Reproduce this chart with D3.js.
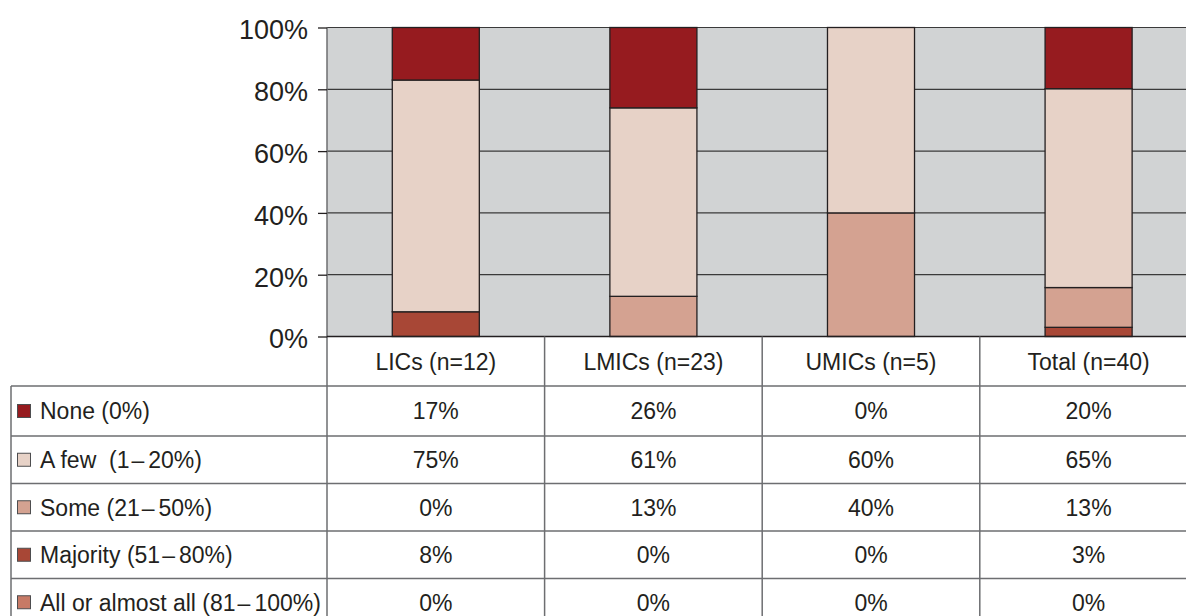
<!DOCTYPE html>
<html><head><meta charset="utf-8">
<script src="https://cdn.jsdelivr.net/npm/d3@7"></script>
<style>
html,body{margin:0;padding:0;background:#fff;overflow:hidden}
text{font-family:"Liberation Sans",Arial,Helvetica,sans-serif;fill:#231f20}
</style></head><body>
<svg id="c" width="1186" height="616"></svg>
<script>
const categories = ["LICs (n=12)", "LMICs (n=23)", "UMICs (n=5)", "Total (n=40)"];
const seriesNames = ["None (0%)", "A few  (1\u201320%)", "Some (21\u201350%)", "Majority (51\u201380%)", "All or almost all (81\u2013100%)"];
const seriesKeys = ["none", "few", "some", "majority", "all"];
const none     = [17, 26, 0, 20];
const few      = [75, 61, 60, 65];
const some     = [0, 13, 40, 13];
const majority = [8, 0, 0, 3];
const all      = [0, 0, 0, 0];
const colors = ["#961b1f", "#e7d2c7", "#d4a291", "#a84736", "#c77a66"];
const yTicks = [0, 20, 40, 60, 80, 100];

const values = {none, few, some, majority, all};
const svg = d3.select("#c");

const plotL = 327, plotT = 27.5, plotB = 336.5, step = 217.6;
const plotR = plotL + step * categories.length;

const x = d3.scaleBand().domain(categories).range([plotL, plotR]).paddingInner(0.6).paddingOuter(0.3);
const xCol = d3.scaleBand().domain(categories).range([plotL, plotR]).padding(0);
const y = d3.scaleLinear().domain([0, 100]).range([plotB, plotT]);

// plot background
svg.append("rect").attr("x", plotL).attr("y", plotT).attr("width", plotR - plotL).attr("height", plotB - plotT).attr("fill", "#d1d3d4");

// gridlines
svg.append("g").selectAll("line").data(yTicks.filter(d => d > 0)).join("line")
  .attr("x1", plotL).attr("x2", plotR).attr("y1", d => y(d)).attr("y2", d => y(d))
  .attr("stroke", "#3a3a3a").attr("stroke-width", 1.2);

// stacked data (normalized per category)
const rows = categories.map((c, i) => {
  const r = {cat: c};
  seriesKeys.forEach(k => r[k] = values[k][i]);
  r.sum = seriesKeys.reduce((s, k) => s + values[k][i], 0);
  return r;
});
const stackOrder = ["all", "majority", "some", "few", "none"];
const normRows = rows.map(r => {
  const o = {cat: r.cat};
  stackOrder.forEach(k => o[k] = r[k] / r.sum * 100);
  return o;
});
const stack = d3.stack().keys(stackOrder)(normRows);

svg.append("g").selectAll("g").data(stack).join("g")
  .attr("fill", s => colors[seriesKeys.indexOf(s.key)])
  .selectAll("rect").data(d => d.filter(p => p[1] - p[0] > 0)).join("rect")
  .attr("x", d => x(d.data.cat)).attr("width", x.bandwidth())
  .attr("y", d => y(d[1])).attr("height", d => y(d[0]) - y(d[1]))
  .attr("stroke", "#231f20").attr("stroke-width", 1.3);

// axes lines
svg.append("line").attr("x1", plotL).attr("x2", plotL).attr("y1", plotT).attr("y2", 616).attr("stroke", "#6d6e71").attr("stroke-width", 1.5);
svg.append("line").attr("x1", plotL).attr("x2", plotR).attr("y1", plotB).attr("y2", plotB).attr("stroke", "#231f20").attr("stroke-width", 1.5);

// y axis
const yAxis = d3.axisLeft(y).tickValues(yTicks).tickFormat(d => d + "%").tickSize(9).tickPadding(10);
const ga = svg.append("g").attr("transform", `translate(${plotL},0)`).call(yAxis);
ga.select(".domain").remove();
ga.selectAll(".tick line").attr("stroke", "#231f20").attr("stroke-width", 1.3);
ga.selectAll(".tick text").attr("font-size", 27).attr("dy", "0.42em").attr("fill", "#231f20")
  .style("font-family", '"Liberation Sans",Arial,sans-serif');

// table
const rowLines = [386, 436, 483.5, 531, 578.5];
const headerTop = plotB, headerBot = rowLines[0];
const tableLeft = 11;
const lineColor = "#6d6e71";
const tbl = svg.append("g");

tbl.selectAll("line.h").data(rowLines).join("line")
  .attr("x1", tableLeft).attr("x2", plotR).attr("y1", d => d).attr("y2", d => d)
  .attr("stroke", lineColor).attr("stroke-width", 1.5);
tbl.append("line").attr("x1", tableLeft).attr("x2", tableLeft).attr("y1", rowLines[0]).attr("y2", 616)
  .attr("stroke", lineColor).attr("stroke-width", 1.5);
tbl.selectAll("line.v").data(categories.slice(1)).join("line")
  .attr("x1", d => xCol(d)).attr("x2", d => xCol(d)).attr("y1", headerTop).attr("y2", 616)
  .attr("stroke", lineColor).attr("stroke-width", 1.5);

tbl.selectAll("text.hdr").data(categories).join("text")
  .attr("x", d => xCol(d) + xCol.bandwidth() / 2).attr("y", (headerTop + headerBot) / 2)
  .attr("dy", "0.36em").attr("text-anchor", "middle").attr("font-size", 23).text(d => d);

const rowBounds = rowLines.map((t, i) => [t, i + 1 < rowLines.length ? rowLines[i + 1] : t + 47.5]);
seriesKeys.forEach((k, i) => {
  const [t, b] = rowBounds[i];
  const cy = (t + b) / 2;
  tbl.append("rect").attr("x", 17.5).attr("y", cy - 6.5).attr("width", 13).attr("height", 13)
    .attr("fill", colors[i]).attr("stroke", "#4d4d4f").attr("stroke-width", 1);
  const lbl = tbl.append("text").attr("x", 40).attr("y", cy).attr("dy", "0.36em").attr("font-size", 23)
    .attr("xml:space", "preserve").style("white-space", "pre");
  const parts = seriesNames[i].split("\u2013");
  if (parts.length === 2) {
    lbl.append("tspan").text(parts[0]);
    lbl.append("tspan").attr("dx", 2).text("\u2013");
    lbl.append("tspan").attr("dx", 4).text(parts[1]);
  } else {
    lbl.text(seriesNames[i]);
  }
  tbl.append("g").selectAll("text").data(categories).join("text")
    .attr("x", d => xCol(d) + xCol.bandwidth() / 2).attr("y", cy).attr("dy", "0.36em")
    .attr("text-anchor", "middle").attr("font-size", 23)
    .text((d, j) => values[k][j] + "%");
});
</script>
</body></html>
